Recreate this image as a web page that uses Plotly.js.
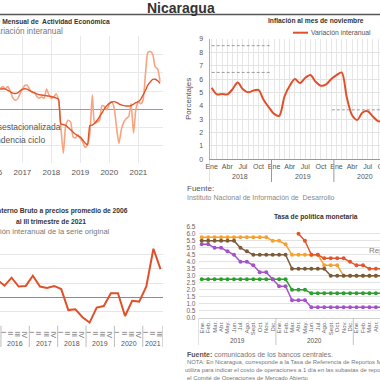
<!DOCTYPE html>
<html><head><meta charset="utf-8">
<script src="https://cdn.plot.ly/plotly-3.0.1.min.js"></script>
<style>
html,body{margin:0;padding:0;overflow:hidden;background:#fff;width:380px;height:380px}
#chart{position:absolute;left:-40px;top:0;width:460px;height:380px}
</style>
</head><body><div id="chart"></div>
<script>
// ---------- Panel 1: Índice Mensual de Actividad Económica (Mar 2016 - Oct 2021) ----------
const imaeStartYear = 2016, imaeStartMonth = 3;
const imaeDesest = [
  5.5, 5.8, 6.2, 5.6, 6.2, 5.0, 3.2, 2.5, 2.8, 4.2,
  5.5, 6.5, 6.6, 5.5, 4.6, 4.6, 3.5, 3.0, 3.4, 3.0, 5.5, 4.0,
  3.0, 3.4, 4.2, 2.6, -5.0, -12.0, -4.5, -3.0, -3.5, -7.5, -7.8, -7.0,
  -8.0, -9.0, -10.4, -9.8, -6.5, 3.9, -3.8, -3.5, -3.0, 1.0, 0.8, -0.2,
  1.5, 2.0, 0.5, -5.0, -9.3, -5.5, -3.5, -2.5, -2.0, 1.5, -6.5, 0.0,
  2.1, 1.5, 2.5, 9.8, 15.5, 15.8, 15.0, 11.6, 11.0, 7.6
];
const imaeTendencia = [
  5.5, 5.5, 5.6, 5.5, 5.2, 4.8, 4.4, 4.3, 4.5, 5.0,
  5.5, 5.6, 5.5, 5.1, 4.8, 4.5, 4.2, 4.0, 3.9, 3.8, 3.7, 3.6,
  3.5, 3.3, 3.1, 2.8, -4.0, -4.2, -4.4, -5.0, -5.6, -6.2, -6.8, -7.2,
  -7.6, -8.4, -9.2, -9.7, -4.4, -4.3, -3.8, -3.0, -2.0, -1.0, 0.2, 1.0,
  1.6, 2.0, 2.1, 1.9, 1.5, 1.2, 1.0, 0.9, 0.9, 1.0, 1.4, 1.8,
  2.1, 2.8, 3.9, 5.2, 6.6, 7.5, 8.2, 8.2, 7.8, 7.1
];

// ---------- Panel 2: Inflación (Ene 2018 - Nov 2020) ----------
const inflMeses = ['Ene','Feb','Mar','Abr','May','Jun','Jul','Ago','Sep','Oct','Nov','Dic'];
const inflMesesVisibles = ['Ene','','','Abr','','','Jul','','','Oct','',''];
const inflAnios = ['2018','2019','2020','2021'];
const inflacion = [
  5.36, 4.86, 4.89, 4.86, 5.24, 5.74, 5.24, 5.01, 5.14, 5.19, 4.44, 3.89,
  3.40, 3.25, 4.70, 5.50, 6.00, 5.70, 6.10, 6.30, 5.80, 5.50, 5.60, 6.00,
  6.30, 6.50, 4.60, 3.30, 2.95, 3.50, 3.60, 3.20, 2.85, 2.80, 2.80
];
const metaAltaX = [0, 11.4], metaAlta = [8.5, 8.5];
const metaBajaX = [0, 11.4], metaBaja = [6.5, 6.5];
const proy2020X = [23.1, 40], proy2020 = [3.7, 3.7];

// ---------- Panel 3: PIB trimestral (IV 2015 - III 2021) ----------
const pibTrimestres = ['I','II','III','IV'];
const pibAnios = ['2016','2017','2018','2019','2020','2021'];
const pib = [
  6.1,
  4.1, 6.9, 3.8, 4.0,
  7.6, 3.8, 3.3, 4.0,
  2.9, -4.5, -4.2, -7.0,
  -8.9, -3.6, -3.1, 1.4,
  1.4, -6.6, -1.2, -1.5,
  3.8, 17.1, 9.9
];

// ---------- Panel 4: Tasa de política monetaria (Ene 2019 - Jun 2021) ----------
const tpmMeses = ['Ene.','Feb.','Mar.','Abr.','May.','Jun.','Jul.','Ago.','Sept.','Oct.','Nov.','Dic.'];
const tpmAnios = ['2019','2020','2021'];
const tpmNaranja = [5.75,5.75,5.75,5.75,5.75,5.75,5.75,5.75,5.75,5.75,5.75,5.5,5.5,5.25,4.5,4.5,4.5,4.5,4.5,3.75,3.75,3.75,3.0,3.0,3.0,3.0,3.0,3.0,3.0,3.0];
const tpmCafe    = [5.5,5.5,5.5,5.5,5.5,5.5,5.0,4.75,4.5,4.5,4.5,4.5,4.5,4.5,3.5,3.5,3.5,3.5,3.5,3.5,3.0,3.0,3.0,3.0,3.0,3.0,3.0,3.0,3.0,3.0];
const tpmMorado  = [5.25,5.25,5.0,5.0,4.75,4.5,4.0,4.0,3.75,3.25,3.25,2.75,2.25,2.25,1.25,1.25,1.25,0.75,0.75,0.75,0.75,0.75,0.75,0.75,0.75,0.75,0.75,0.75,0.75,0.75];
const tpmVerde   = [2.75,2.75,2.75,2.75,2.75,2.75,2.75,2.75,2.75,2.75,2.75,2.75,2.75,2.75,2.0,2.0,2.0,1.75,1.75,1.75,1.75,1.75,1.75,1.75,1.75,1.75,1.75,1.75,1.75,1.75];
const tpmNicaragua = [null,null,null,null,null,null,null,null,null,null,null,null,null,null,null,6.0,5.5,4.5,4.5,4.25,4.25,4.25,4.25,4.0,3.75,3.75,3.5,3.5,3.5,3.5];

// ---------- helpers ----------
const OFF = 40, W = 460, H = 380;
const X = p => (p + OFF) / W;
const Y = p => 1 - p / H;
const FONT = 'Liberation Sans, Arial, sans-serif';
const idx = arr => arr.map((_, i) => i);
function monthSeq(y, m, n) {
  const out = [];
  for (let i = 0; i < n; i++) {
    const yy = y + Math.floor((m - 1 + i) / 12);
    const mm = (m - 1 + i) % 12 + 1;
    out.push(yy + '-' + String(mm).padStart(2, '0') + '-01');
  }
  return out;
}
function ann(text, px, py, size, color, xa, extra) {
  return Object.assign({xref:'paper', yref:'paper', x:X(px), y:Y(py), text:text, showarrow:false,
    xanchor:xa || 'left', yanchor:'middle', borderpad:0,
    font:{family:FONT, size:size, color:color}}, extra || {});
}
function hline(px0, px1, py, color, width) {
  return {type:'line', xref:'paper', yref:'paper', x0:X(px0), x1:X(px1), y0:Y(py), y1:Y(py),
    line:{color:color, width:width}};
}

const imaeDates = monthSeq(imaeStartYear, imaeStartMonth, imaeDesest.length);
const pibX = pib.map((_, i) => i - 1);

const C_LIGHT = '#F9A47F', C_DARK = '#DE5329', C_RED = '#E0502A';

const traces = [
  // Panel 1
  {x: imaeDates, y: imaeDesest, xaxis:'x', yaxis:'y', mode:'lines',
   line:{color:C_LIGHT, width:1.6, shape:'spline', smoothing:0.6}, hoverinfo:'skip'},
  {x: imaeDates, y: imaeTendencia, xaxis:'x', yaxis:'y', mode:'lines',
   line:{color:C_DARK, width:1.4, shape:'spline', smoothing:0.5}, hoverinfo:'skip'},
  // Panel 2
  {x: metaAltaX, y: metaAlta, xaxis:'x2', yaxis:'y2', mode:'lines', line:{color:'#9a9a9a', width:1, dash:'3px,2px'}},
  {x: metaBajaX, y: metaBaja, xaxis:'x2', yaxis:'y2', mode:'lines', line:{color:'#9a9a9a', width:1, dash:'3px,2px'}},
  {x: proy2020X, y: proy2020, xaxis:'x2', yaxis:'y2', mode:'lines', line:{color:'#9a9a9a', width:1, dash:'3px,2px'}},
  {x: idx(inflacion), y: inflacion, xaxis:'x2', yaxis:'y2', mode:'lines',
   line:{color:C_RED, width:2, shape:'spline', smoothing:0.8}},
  // Panel 3
  {x: pibX, y: pib, xaxis:'x3', yaxis:'y3', mode:'lines', line:{color:C_RED, width:2}},
  // Panel 4
  {x: idx(tpmNaranja), y: tpmNaranja, xaxis:'x4', yaxis:'y4', mode:'lines+markers',
   line:{color:'#F5A131', width:1.5}, marker:{color:'#F5A131', size:4}},
  {x: idx(tpmVerde), y: tpmVerde, xaxis:'x4', yaxis:'y4', mode:'lines+markers',
   line:{color:'#2E9E2E', width:1.5}, marker:{color:'#2E9E2E', size:4}},
  {x: idx(tpmMorado), y: tpmMorado, xaxis:'x4', yaxis:'y4', mode:'lines+markers',
   line:{color:'#A452C9', width:1.5}, marker:{color:'#A452C9', size:4}},
  {x: idx(tpmCafe), y: tpmCafe, xaxis:'x4', yaxis:'y4', mode:'lines+markers',
   line:{color:'#7A5C3B', width:1.5}, marker:{color:'#7A5C3B', size:4}},
  {x: idx(tpmNicaragua), y: tpmNicaragua, xaxis:'x4', yaxis:'y4', mode:'lines+markers',
   line:{color:'#E4552B', width:1.5}, marker:{color:'#E4552B', size:4}}
];

// tick arrays
const inflTickVals = [], inflTickText = [];
for (let i = 0; i <= 40; i++) { inflTickVals.push(i); inflTickText.push(inflMesesVisibles[i % 12]); }
const pibTickVals = [], pibTickText = [];
for (let i = 0; i <= 22; i++) { pibTickVals.push(i); pibTickText.push(pibTrimestres[i % 4]); }
const tpmTickVals = [], tpmTickText = [];
for (let i = 0; i <= 33; i++) { tpmTickVals.push(i); tpmTickText.push(tpmMeses[i % 12]); }

const shapes = [
  hline(-40, 420, 14.5, '#555', 1.5),
  // legend line panel 2
  hline(293, 308, 32.7, C_RED, 2)
];
// year separators
[-0.5, 11.5, 23.5, 35.5].forEach(v => shapes.push({type:'line', xref:'x2', yref:'paper', x0:v, x1:v,
  y0:Y(159.3), y1:Y(182), line:{color:'#9a9a9a', width:1}}));
[-0.5, 3.5, 7.5, 11.5, 15.5, 19.5, 22.3].forEach(v => shapes.push({type:'line', xref:'x3', yref:'paper', x0:v, x1:v,
  y0:Y(325.7), y1:Y(347), line:{color:'#bdbdbd', width:1}}));
[-0.5, 11.5, 23.5].forEach(v => shapes.push({type:'line', xref:'x4', yref:'paper', x0:v, x1:v,
  y0:Y(317.8), y1:Y(345), line:{color:'#c4c4c4', width:1}}));

const annotations = [
  ann('<b>Nicaragua</b>', 180.5, 7.5, 14, '#333', 'center'),
  // panel 1
  ann('<b>Índice Mensual de  Actividad Económica</b>', 111, 21, 6.7, '#333', 'right'),
  ann('Variación interanual', 63.5, 31, 8.2, '#777', 'right'),
  ann('Serie desestacionalizada', 62, 127, 8.5, '#555', 'right'),
  ann('Tendencia ciclo', 46, 139.5, 8.5, '#555', 'right'),
  // panel 2
  ann('<b>Inflación al mes de noviembre</b>', 315.5, 21, 6.7, '#333', 'center'),
  ann('Variación interanual', 309.5, 32.7, 6.8, '#555', 'left'),
  ann('Porcentajes', 188, 99, 8, '#555', 'center', {textangle:-90}),
  ann('Fuente:', 185.5, 188.3, 8, '#555', 'left'),
  ann('Instituto Nacional de Información de  Desarrollo', 185.5, 197.7, 7, '#888', 'left'),
  // panel 3
  ann('<b>Producto Interno Bruto a precios promedio de 2006</b>', 128.5, 211, 6.7, '#333', 'right'),
  ann('<b>al III trimestre de 2021</b>', 51, 221, 6.7, '#333', 'center'),
  ann('Variación interanual de la serie original', 111, 231, 7.6, '#777', 'right'),
  // panel 4
  ann('<b>Tasa de política monetaria</b>', 316, 216.5, 6.7, '#333', 'center'),
  ann('Rep. Dominicana', 367.5, 250, 8, '#8B7D6B', 'left'),
  ann('<b>Fuente:</b> <span style="color:#777">comunicados de los bancos centrales.</span>', 186, 354.5, 7, '#555', 'left'),
  ann('NOTA: En Nicaragua, corresponde a la Tasa de Referencia de Reportos Monetarios (TRM), la cual se', 185.5, 361.8, 5.9, '#777', 'left'),
  ann('utiliza para indicar el costo de operaciones a 1 día en las subastas de reportos monetarios, y es determinada por', 183.5, 370, 5.9, '#777', 'left'),
  ann('el Comité de Operaciones de Mercado Abierto', 185.5, 377.5, 5.9, '#777', 'left')
];
inflAnios.forEach((a, i) => annotations.push({xref:'x2', yref:'paper', x:5.5 + 12 * i, y:Y(176.7), text:a,
  showarrow:false, xanchor:'center', yanchor:'middle', font:{family:FONT, size:7, color:'#555'}}));
pibAnios.forEach((a, i) => annotations.push({xref:'x3', yref:'paper', x:(i < 5 ? 1.5 + 4 * i : 21), y:Y(343.3), text:a,
  showarrow:false, xanchor:'center', yanchor:'middle', font:{family:FONT, size:7, color:'#555'}}));
tpmAnios.forEach((a, i) => annotations.push({xref:'x4', yref:'paper', x:5.5 + 12 * i, y:Y(340), text:a,
  showarrow:false, xanchor:'center', yanchor:'middle', font:{family:FONT, size:6.5, color:'#555'}}));

const layout = {
  width: W, height: H, margin:{l:0, r:0, t:0, b:0},
  paper_bgcolor:'#fff', plot_bgcolor:'#fff', showlegend:false,
  font:{family:FONT, color:'#555'},
  xaxis:{domain:[X(-35), X(162.5)], anchor:'y', type:'date', range:['2015-01-09','2021-11-01'],
    dtick:'M12', tick0:'2016-01-01', tickformat:'%Y', showgrid:true, gridcolor:'#e8e8e8',
    zeroline:false, showline:false, ticks:'', tickfont:{size:8, color:'#555'}, ticklabelstandoff:3},
  yaxis:{domain:[Y(163), Y(35.5)], anchor:'x', range:[-14.67, 20.16], dtick:5, tick0:0,
    showgrid:true, gridcolor:'#e8e8e8', zeroline:true, zerolinecolor:'#9a9a9a', zerolinewidth:1.5,
    showticklabels:false, showline:false},
  xaxis2:{domain:[X(209.5), 1], anchor:'y2', range:[-0.42, 40.06], tickmode:'array',
    tickvals:inflTickVals, ticktext:inflTickText, showgrid:true, gridcolor:'#e6e6e6',
    zeroline:false, showline:true, linecolor:'#9a9a9a', linewidth:1, ticks:'',
    tickfont:{size:7, color:'#555'}},
  yaxis2:{domain:[Y(159.3), Y(39)], anchor:'x2', range:[0, 9], dtick:1, showgrid:true,
    gridcolor:'#e3e3e3', zeroline:false, showline:true, linecolor:'#b0b0b0', ticks:'',
    tickfont:{size:7, color:'#555'}, ticklabelstandoff:4},
  xaxis3:{domain:[X(-35), X(162.7)], anchor:'y3', range:[-5.57, 22.31], tickmode:'array',
    tickvals:pibTickVals, ticktext:pibTickText, showgrid:false, zeroline:false, showline:false,
    ticks:'', tickfont:{size:7, color:'#666'}, ticklabelstandoff:1},
  yaxis3:{domain:[Y(325.7), Y(240.5)], anchor:'x3', range:[-10, 20], dtick:5, tick0:0,
    showgrid:true, gridcolor:'#e6e6e6', zeroline:true, zerolinecolor:'#8a8a8a', zerolinewidth:1.2,
    showticklabels:false, showline:false},
  xaxis4:{domain:[X(198.5), 1], anchor:'y4', range:[-0.5, 33.84], tickmode:'array',
    tickvals:tpmTickVals, ticktext:tpmTickText, tickangle:-90, showgrid:false, zeroline:false,
    showline:true, linecolor:'#d0d0d0', ticks:'', tickfont:{size:6, color:'#666'}},
  yaxis4:{domain:[Y(317.8), Y(226.8)], anchor:'x4', range:[0, 6.5], dtick:0.5, tick0:0,
    tickformat:'.1f', showgrid:true, gridcolor:'#e3e3e3', zeroline:false, showline:false,
    ticks:'', tickfont:{size:6.5, color:'#666'}, ticklabelstandoff:2},
  shapes: shapes,
  annotations: annotations
};

Plotly.newPlot('chart', traces, layout, {staticPlot:true, displayModeBar:false});
</script>
</body></html>
